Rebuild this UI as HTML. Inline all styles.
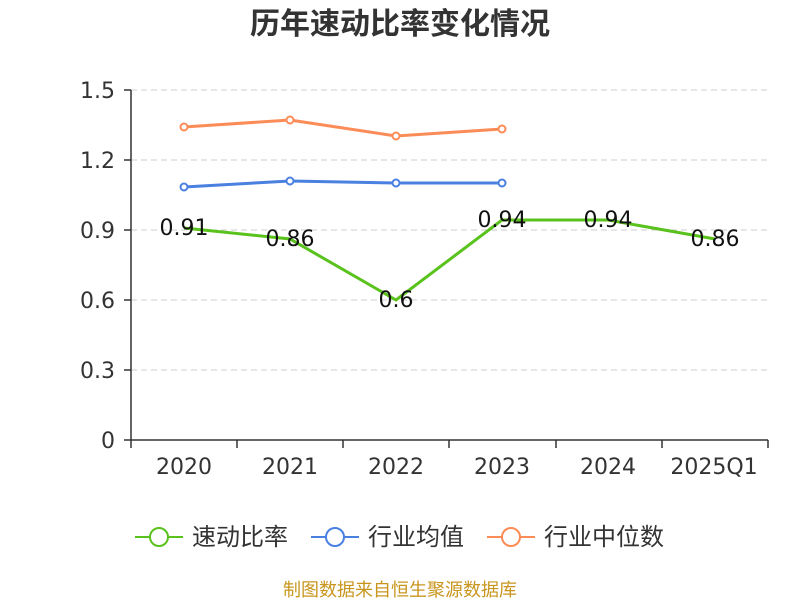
<!DOCTYPE html>
<html><head><meta charset="utf-8"><style>
body{margin:0;background:#fff;}
svg text{font-family:"DejaVu Sans","Noto Sans CJK SC",sans-serif;}
</style></head><body>
<svg width="800" height="600" xmlns="http://www.w3.org/2000/svg">
<text x="400" y="34" text-anchor="middle" font-size="30" font-weight="bold" fill="#333">历年速动比率变化情况</text>
<g stroke="#ccc" stroke-dasharray="6,4" stroke-width="1">
<line x1="131" y1="90" x2="768" y2="90"/>
<line x1="131" y1="160" x2="768" y2="160"/>
<line x1="131" y1="230" x2="768" y2="230"/>
<line x1="131" y1="300" x2="768" y2="300"/>
<line x1="131" y1="370" x2="768" y2="370"/>
</g>
<g stroke="#333" stroke-width="1.5">
<line x1="131" y1="90" x2="131" y2="440"/>
<line x1="131" y1="440" x2="768" y2="440"/>
<line x1="124" y1="90" x2="131" y2="90"/><line x1="124" y1="160" x2="131" y2="160"/><line x1="124" y1="230" x2="131" y2="230"/><line x1="124" y1="300" x2="131" y2="300"/><line x1="124" y1="370" x2="131" y2="370"/><line x1="124" y1="440" x2="131" y2="440"/>
<line x1="131" y1="440" x2="131" y2="448"/><line x1="237" y1="440" x2="237" y2="448"/><line x1="343" y1="440" x2="343" y2="448"/><line x1="449" y1="440" x2="449" y2="448"/><line x1="556" y1="440" x2="556" y2="448"/><line x1="662" y1="440" x2="662" y2="448"/><line x1="768" y1="440" x2="768" y2="448"/>
</g>
<g font-size="22" fill="#333" text-anchor="end">
<text x="115" y="98">1.5</text><text x="115" y="168">1.2</text><text x="115" y="238">0.9</text><text x="115" y="308">0.6</text><text x="115" y="378">0.3</text><text x="115" y="448">0</text>
</g>
<g font-size="22" fill="#333" text-anchor="middle">
<text x="184" y="474">2020</text><text x="290" y="474">2021</text><text x="396" y="474">2022</text><text x="502" y="474">2023</text><text x="608" y="474">2024</text><text x="714" y="474">2025Q1</text>
</g>
<polyline fill="none" stroke="#fb8c57" stroke-width="3" points="184,127 290,120 396,136 502,129"/>
<g fill="#fff" stroke="#fb8c57" stroke-width="2"><circle cx="184" cy="127" r="3.5"/><circle cx="290" cy="120" r="3.5"/><circle cx="396" cy="136" r="3.5"/><circle cx="502" cy="129" r="3.5"/></g>
<polyline fill="none" stroke="#4a80e0" stroke-width="3" points="184,187 290,181 396,183 502,183"/>
<g fill="#fff" stroke="#4a80e0" stroke-width="2"><circle cx="184" cy="187" r="3.5"/><circle cx="290" cy="181" r="3.5"/><circle cx="396" cy="183" r="3.5"/><circle cx="502" cy="183" r="3.5"/></g>
<polyline fill="none" stroke="#5ac21d" stroke-width="3" points="184,228 290,239 396,300 502,220 608,220 715,239"/>
<g font-size="22" fill="#111" text-anchor="middle">
<text x="184" y="235">0.91</text><text x="290" y="246">0.86</text><text x="396" y="307">0.6</text><text x="502" y="227">0.94</text><text x="608" y="227">0.94</text><text x="715" y="246">0.86</text>
</g>
<g stroke-width="2" fill="#fff">
<line x1="135" y1="537" x2="183" y2="537" stroke="#5ac21d"/><circle cx="159" cy="537" r="9" stroke="#5ac21d"/>
<line x1="311" y1="537" x2="359" y2="537" stroke="#4a80e0"/><circle cx="335" cy="537" r="9" stroke="#4a80e0"/>
<line x1="487" y1="537" x2="535" y2="537" stroke="#fb8c57"/><circle cx="511" cy="537" r="9" stroke="#fb8c57"/>
</g>
<g font-size="24" fill="#333">
<text x="192" y="545">速动比率</text><text x="368" y="545">行业均值</text><text x="544" y="545">行业中位数</text>
</g>
<text x="400" y="596" text-anchor="middle" font-size="18" fill="#c8961e">制图数据来自恒生聚源数据库</text>
</svg>
</body></html>
